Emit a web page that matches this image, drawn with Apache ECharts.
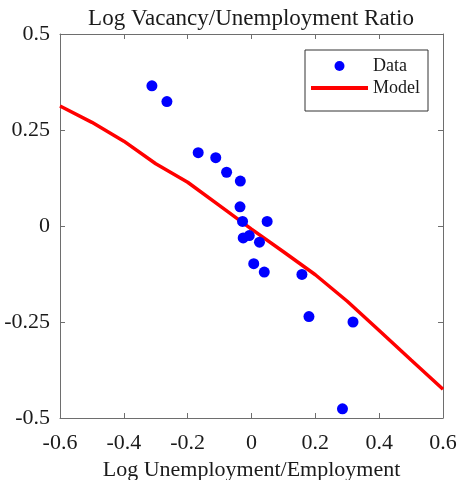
<!DOCTYPE html>
<html>
<head>
<meta charset="utf-8">
<script src="https://cdn.jsdelivr.net/npm/echarts@6/dist/echarts.min.js"></script>
<style>
html,body{margin:0;padding:0;background:#fff;}
#chart{width:457px;height:480px;}
</style>
</head>
<body>
<div id="chart"></div>
<script>
// Observed data (log U/E, log V/U)
var dataX = [-0.312, -0.265, -0.167, -0.112, -0.078, -0.035, -0.036, -0.028, 0.049, -0.026, -0.007, 0.025, 0.007, 0.040, 0.158, 0.180, 0.318, 0.285];
var dataY = [0.365, 0.324, 0.191, 0.178, 0.140, 0.117, 0.050, 0.012, 0.012, -0.031, -0.025, -0.042, -0.098, -0.120, -0.126, -0.236, -0.250, -0.476];
// Model curve
var modelX = [-0.6, -0.5, -0.4, -0.3, -0.2, -0.1, 0.0, 0.1, 0.2, 0.3, 0.4, 0.5, 0.6];
var modelY = [0.3125, 0.270, 0.221, 0.162, 0.114, 0.053, -0.008, -0.067, -0.127, -0.196, -0.272, -0.349, -0.425];
// Tick labels
var xTicks = [-0.6, -0.4, -0.2, 0, 0.2, 0.4, 0.6];
var yTicks = [-0.5, -0.25, 0, 0.25, 0.5];
var titleText = 'Log Vacancy/Unemployment Ratio';
var xName = 'Log Unemployment/Employment';

var scatterData = dataX.map(function (x, i) { return [x, dataY[i]]; });
var modelData = modelX.map(function (x, i) { return [x, modelY[i]]; });

var FONT = '"Liberation Serif", "Times New Roman", serif';
var AXC = '#6e6e6e';
var TXC = '#1a1a1a';

function fmtX(v) {
  for (var i = 0; i < xTicks.length; i++) if (Math.abs(xTicks[i] - v) < 1e-9) return String(xTicks[i]);
  return '';
}
function fmtY(v) {
  for (var i = 0; i < yTicks.length; i++) if (Math.abs(yTicks[i] - v) < 1e-9) return String(yTicks[i]);
  return '';
}

var chart = echarts.init(document.getElementById('chart'), null, {renderer: 'canvas'});
var axisCommon = {
  axisLine: {show: true, onZero: false, lineStyle: {color: AXC, width: 1}},
  axisTick: {show: true, inside: true, length: 5, lineStyle: {color: AXC, width: 1}},
  splitLine: {show: false}
};
chart.setOption({
  backgroundColor: '#fff',
  animation: false,
  title: {
    text: titleText,
    left: 246, top: 2, textAlign: 'center',
    textStyle: {fontFamily: FONT, fontSize: 23, fontWeight: 'normal', color: TXC}
  },
  grid: {left: 60, right: 14, top: 34, bottom: 62, containLabel: false, outerBoundsMode: 'none'},
  legend: {
    orient: 'vertical',
    right: 29, top: 50,
    backgroundColor: '#fff',
    borderColor: '#333',
    borderWidth: 1,
    padding: [7, 8, 14, 6],
    itemWidth: 57, itemHeight: 10, itemGap: 4,
    textStyle: {fontFamily: FONT, fontSize: 18, color: TXC},
    data: [
      {name: 'Data', icon: 'circle'},
      {name: 'Model', icon: 'path://M0,0 L60,0 L60,4 L0,4 Z'}
    ]
  },
  xAxis: [
    Object.assign({
      type: 'value', min: -0.6, max: 0.6, interval: 0.2, position: 'bottom',
      name: xName, nameLocation: 'middle', nameGap: 40,
      nameTextStyle: {fontFamily: FONT, fontSize: 22, color: TXC},
      axisLabel: {fontFamily: FONT, fontSize: 22, color: TXC, margin: 14, formatter: fmtX}
    }, axisCommon),
    Object.assign({
      type: 'value', min: -0.6, max: 0.6, interval: 0.2, position: 'top',
      axisLabel: {show: false}
    }, axisCommon)
  ],
  yAxis: [
    Object.assign({
      type: 'value', min: -0.5, max: 0.5, interval: 0.25, position: 'left',
      axisLabel: {fontFamily: FONT, fontSize: 22, color: TXC, margin: 10, formatter: fmtY}
    }, axisCommon),
    Object.assign({
      type: 'value', min: -0.5, max: 0.5, interval: 0.25, position: 'right',
      axisLabel: {show: false}
    }, axisCommon)
  ],
  series: [
    {
      name: 'Data', type: 'scatter', data: scatterData,
      symbol: 'circle', symbolSize: 11,
      itemStyle: {color: '#0000ff', opacity: 1}, z: 3
    },
    {
      name: 'Model', type: 'line', data: modelData,
      showSymbol: false, smooth: false,
      lineStyle: {color: '#ff0000', width: 3.5},
      itemStyle: {color: '#ff0000'}, z: 2
    }
  ]
});
</script>
</body>
</html>
